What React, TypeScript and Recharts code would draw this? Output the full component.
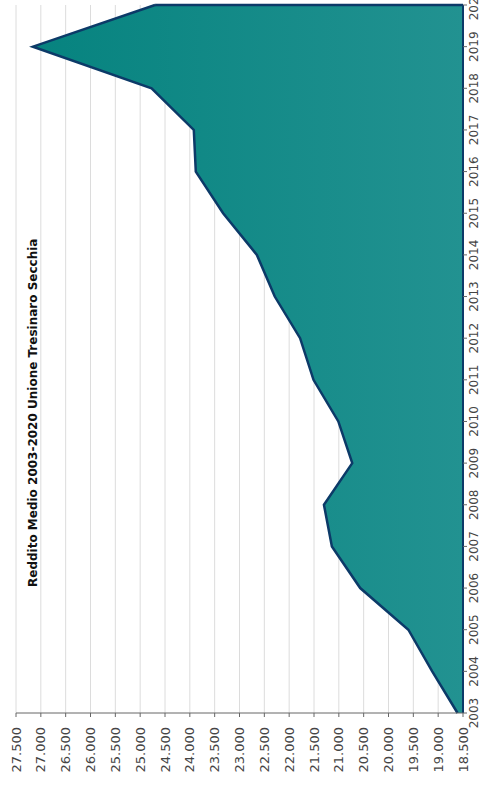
import { AreaChart, Area, XAxis, YAxis, CartesianGrid, ReferenceLine } from "recharts";

// Reddito medio (euro) per anno
const years = [
  "2003", "2004", "2005", "2006", "2007", "2008", "2009", "2010", "2011",
  "2012", "2013", "2014", "2015", "2016", "2017", "2018", "2019", "2020",
];
const income = [
  18610, 19120, 19600, 20570, 21140, 21300, 20730, 21010, 21510,
  21780, 22290, 22650, 23330, 23880, 23920, 24770, 27160, 24700,
];
const valueTicks = [
  18500, 19000, 19500, 20000, 20500, 21000, 21500, 22000, 22500, 23000,
  23500, 24000, 24500, 25000, 25500, 26000, 26500, 27000, 27500,
];
const title = "Reddito Medio 2003-2020 Unione Tresinaro Secchia";

const data = years.map((y, i) => ({ year: y, value: income[i] }));

// 27500 -> "27.500"
const fmt = (v: number) => {
  const k = Math.floor(v / 1000);
  const r = String(v % 1000).padStart(3, "0");
  return `${k}.${r}`;
};

const FONT = "'DejaVu Sans', Verdana, sans-serif";
const LINE = "#0c3a68";

export default function App() {
  const last = data[data.length - 1];
  return (
    <div style={{ position: "fixed", left: 0, top: 0, width: 485, height: 787, overflow: "hidden", background: "#fff" }}>
      {/* chart drawn landscape, then turned 90deg counter-clockwise */}
      <div
        style={{
          position: "absolute",
          left: 0,
          top: 0,
          width: 787,
          height: 485,
          transformOrigin: "0 0",
          transform: "translate(0px, 787px) rotate(-90deg)",
        }}
      >
        <AreaChart width={787} height={485} data={data} margin={{ top: 16, right: 5, bottom: 0, left: 0 }}>
          <defs>
            <linearGradient id="tealFill" x1="0" y1="0" x2="0" y2="1">
              <stop offset="0%" stopColor="#06837f" />
              <stop offset="100%" stopColor="#229291" />
            </linearGradient>
          </defs>
          <CartesianGrid vertical={false} stroke="#dcdcdc" />
          <XAxis
            dataKey="year"
            interval={0}
            height={22}
            tickSize={4}
            axisLine={{ stroke: LINE, strokeWidth: 2 }}
            tickLine={{ stroke: "#666" }}
            tick={{ fill: "#444", fontSize: 12, fontFamily: FONT }}
          />
          <YAxis
            width={74}
            domain={[18500, 27500]}
            ticks={valueTicks}
            tickFormatter={fmt}
            interval={0}
            tickSize={4}
            tickMargin={10}
            axisLine={{ stroke: "#666" }}
            tickLine={{ stroke: "#666" }}
            tick={{ fill: "#444", fontSize: 13, fontFamily: FONT }}
          />
          <Area
            type="linear"
            dataKey="value"
            stroke={LINE}
            strokeWidth={2.5}
            fill="url(#tealFill)"
            fillOpacity={1}
            baseValue={18500}
            isAnimationActive={false}
            dot={false}
            activeDot={false}
          />
          <ReferenceLine
            segment={[
              { x: last.year, y: 18500 },
              { x: last.year, y: last.value },
            ]}
            stroke={LINE}
            strokeWidth={2.5}
          />
        </AreaChart>
        <div
          style={{
            position: "absolute",
            left: 200,
            top: 26,
            fontFamily: FONT,
            fontWeight: "bold",
            fontSize: 12,
            color: "#111",
            whiteSpace: "pre",
          }}
        >
          {title}
        </div>
      </div>
    </div>
  );
}
